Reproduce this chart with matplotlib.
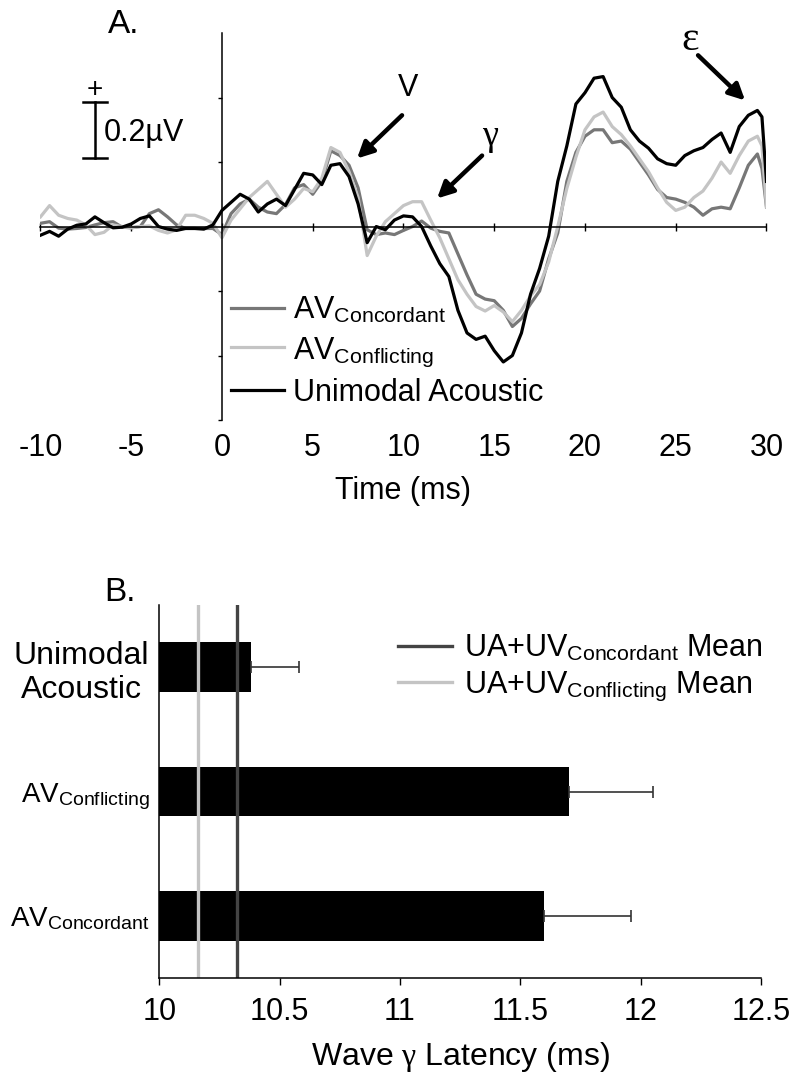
import numpy as np
import matplotlib
matplotlib.use("Agg")
import matplotlib.pyplot as plt

plt.rcParams['font.family'] = ['Liberation Sans', 'DejaVu Sans']
plt.rcParams['mathtext.fontset'] = 'custom'
plt.rcParams['mathtext.rm'] = 'Liberation Sans'
plt.rcParams['mathtext.it'] = 'Liberation Serif'
plt.rcParams['axes.unicode_minus'] = False

# panel A: waveforms (uV), sampled every 0.5 ms
time_ms = list(np.arange(-10, 30, 0.5)) + [29.75, 30.0]

unimodal = [-0.027, -0.015, -0.03, -0.008, 0.004, 0.008, 0.03, 0.012, -0.004, -0.002,
            0.008, 0.025, 0.033, 0.0, -0.008, -0.012, -0.006, -0.006, -0.008, 0.005,
            0.05, 0.075, 0.10, 0.085, 0.045, 0.07, 0.085, 0.065, 0.115, 0.165,
            0.16, 0.13, 0.19, 0.195, 0.155, 0.07, -0.05, 0.0, -0.01, 0.02,
            0.033, 0.03, 0.0, -0.06, -0.115, -0.155, -0.26, -0.33, -0.35, -0.34,
            -0.385, -0.42, -0.40, -0.33, -0.21, -0.13, -0.03, 0.14, 0.25, 0.38,
            0.415, 0.46, 0.465, 0.40, 0.37, 0.30, 0.265, 0.243, 0.21, 0.195,
            0.19, 0.22, 0.235, 0.245, 0.27, 0.29, 0.23, 0.31, 0.345, 0.36,
            0.34, 0.14]

av_concordant = [0.01, 0.015, -0.005, -0.008, -0.006, -0.003, 0.005, 0.012, 0.015, -0.002,
                 -0.004, 0.0, 0.04, 0.052, 0.03, 0.005, -0.006, -0.006, -0.006, -0.006,
                 -0.025, 0.04, 0.07, 0.085, 0.06, 0.045, 0.04, 0.068, 0.12, 0.13,
                 0.10, 0.14, 0.235, 0.22, 0.19, 0.12, -0.01, -0.025, -0.02, -0.025,
                 -0.012, 0.0, 0.017, -0.005, -0.015, -0.02, -0.085, -0.15, -0.21, -0.225,
                 -0.23, -0.26, -0.31, -0.285, -0.24, -0.2, -0.1, -0.02, 0.14, 0.23,
                 0.28, 0.30, 0.30, 0.26, 0.265, 0.24, 0.2, 0.16, 0.115, 0.09,
                 0.085, 0.075, 0.06, 0.035, 0.055, 0.06, 0.055, 0.12, 0.19, 0.225,
                 0.18, 0.06]

av_conflicting = [0.03, 0.065, 0.035, 0.025, 0.02, 0.005, -0.025, -0.018, 0.005, 0.0,
                  -0.004, 0.0, 0.002, -0.012, -0.02, -0.01, 0.035, 0.035, 0.025, 0.01,
                  -0.035, 0.02, 0.055, 0.09, 0.115, 0.14, 0.10, 0.06, 0.085, 0.118,
                  0.108, 0.15, 0.245, 0.23, 0.17, 0.09, -0.09, -0.03, 0.015, 0.04,
                  0.065, 0.077, 0.077, 0.02, -0.035, -0.1, -0.165, -0.21, -0.248, -0.262,
                  -0.245, -0.265, -0.295, -0.26, -0.215, -0.18, -0.11, 0.0, 0.118, 0.215,
                  0.30, 0.34, 0.355, 0.31, 0.285, 0.25, 0.21, 0.17, 0.12, 0.075,
                  0.05, 0.06, 0.09, 0.11, 0.15, 0.2, 0.165, 0.22, 0.265, 0.28,
                  0.25, 0.06]

# panel B: wave gamma latency
conditions = ['AV$_{\\mathrm{Concordant}}$', 'AV$_{\\mathrm{Conflicting}}$', 'Unimodal\nAcoustic']
latency = [11.60, 11.70, 10.38]
latency_err = [0.36, 0.35, 0.20]
mean_concordant = 10.325
mean_conflicting = 10.16

DARK = '#777777'
LIGHT = '#c4c4c4'
FS = 22

fig = plt.figure(figsize=(8, 10.8), dpi=100)

# ---------------- panel A ----------------
ax = fig.add_axes([0.0506, 0.6111, 0.9075, 0.3583])
ax.plot(time_ms, av_concordant, color=DARK, lw=2.3, label='AV$_{\\mathrm{Concordant}}$')
ax.plot(time_ms, av_conflicting, color=LIGHT, lw=2.3, label='AV$_{\\mathrm{Conflicting}}$')
ax.plot(time_ms, unimodal, color='black', lw=2.3, label='Unimodal Acoustic')
ax.set_xlim(-10, 30)
ax.set_ylim(-0.6, 0.6)

ax.spines['top'].set_visible(False)
ax.spines['right'].set_visible(False)
ax.spines['left'].set_position(('data', 0))
ax.spines['bottom'].set_position(('data', 0))
for s in ['left', 'bottom']:
    ax.spines[s].set_linewidth(1.1)
ax.set_yticks([-0.6, -0.4, -0.2, 0.2, 0.4])
ax.set_yticklabels([])
ax.tick_params(axis='y', length=3, direction='out', width=1)
ax.set_xticks(range(-10, 31, 5))
ax.tick_params(axis='x', length=6, direction='inout', width=1, labelbottom=False)

sec = ax.secondary_xaxis('bottom')
sec.spines['bottom'].set_visible(False)
sec.set_xticks(range(-10, 31, 5))
sec.tick_params(length=0, pad=9, labelsize=FS)
sec.set_xlabel('Time (ms)', fontsize=FS, labelpad=10)

# scale bar
ax.plot([0.075, 0.075], [0.677, 0.822], color='black', lw=1.8, transform=ax.transAxes, clip_on=False)
for yy in [0.677, 0.822]:
    ax.plot([0.0585, 0.0915], [yy, yy], color='black', lw=1.8, transform=ax.transAxes, clip_on=False)
ax.text(0.075, 0.853, '+', transform=ax.transAxes, ha='center', va='center', fontsize=20)
ax.text(0.087, 0.742, '0.2\u00b5V', transform=ax.transAxes, ha='left', va='center', fontsize=FS)

arrow = dict(arrowstyle='-|>', lw=3.2, color='black', mutation_scale=24, shrinkA=0, shrinkB=0)
ax.annotate('', xy=(7.44, 0.211), xytext=(9.92, 0.345), arrowprops=arrow)
ax.text(10.25, 0.43, 'V', fontsize=FS, ha='center', va='center')
ax.annotate('', xy=(11.85, 0.087), xytext=(14.33, 0.22), arrowprops=arrow)
ax.text(14.77, 0.28, '\u03b3', fontsize=26, ha='center', va='center', family='Liberation Serif')
ax.annotate('', xy=(28.82, 0.391), xytext=(26.23, 0.531), arrowprops=arrow)
ax.text(25.79, 0.58, '\u03b5', fontsize=30, ha='center', va='center', family='Liberation Serif')

ax.legend(loc='upper left', bbox_to_anchor=(0.262, 0.322), frameon=False, fontsize=FS,
          handlelength=1.75, handletextpad=0.3, labelspacing=0.3, borderpad=0, borderaxespad=0)

fig.text(0.154, 0.977, 'A.', fontsize=24, ha='center', va='center')

# ---------------- panel B ----------------
bx = fig.add_axes([0.199, 0.0944, 0.7525, 0.3454])
ypos = np.arange(len(conditions))
bx.barh(ypos, latency, height=0.4, color='black')
bx.errorbar(latency, ypos, xerr=[np.zeros(len(latency)), latency_err], fmt='none',
            ecolor='#333333', elinewidth=1.2, capsize=4, capthick=1.2)
bx.axvline(mean_concordant, color='#444444', lw=2.4, label='UA+UV$_{\\mathrm{Concordant}}$ Mean')
bx.axvline(mean_conflicting, color=LIGHT, lw=2.4, label='UA+UV$_{\\mathrm{Conflicting}}$ Mean')
bx.set_xlim(10, 12.5)
bx.set_ylim(-0.5, 2.5)
bx.set_xticks([10, 10.5, 11, 11.5, 12, 12.5])
bx.set_xticklabels(['10', '10.5', '11', '11.5', '12', '12.5'])
bx.set_yticks(ypos)
bx.set_yticklabels(conditions, multialignment='center')
for lab, size in zip(bx.get_yticklabels(), [20, 20, 23]):
    lab.set_fontsize(size)
bx.tick_params(axis='y', length=0, pad=7)
bx.tick_params(axis='x', length=5, width=1, labelsize=FS, pad=9)
bx.spines['top'].set_visible(False)
bx.spines['right'].set_visible(False)
for s in ['left', 'bottom']:
    bx.spines[s].set_linewidth(1.1)
bx.set_xlabel('Wave $\\gamma$ Latency (ms)', fontsize=FS + 1, labelpad=9)
bx.legend(loc='upper left', bbox_to_anchor=(0.397, 0.925), frameon=False, fontsize=FS,
          handlelength=1.75, handletextpad=0.4, labelspacing=0.2, borderpad=0, borderaxespad=0)

fig.text(0.15, 0.451, 'B.', fontsize=24, ha='center', va='center')

fig.savefig('out.png', dpi=100)
